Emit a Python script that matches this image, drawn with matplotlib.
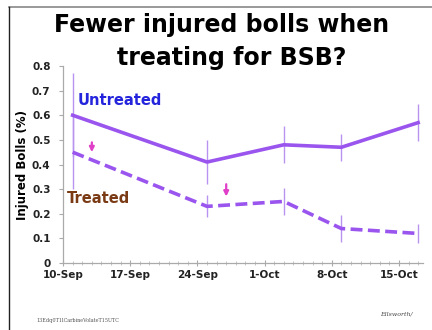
import numpy as np
import pandas as pd
import matplotlib
matplotlib.use('Agg')
import matplotlib.pyplot as plt
import matplotlib.dates as mdates
from matplotlib.lines import Line2D

# Sample dates and injured boll fractions
dates = pd.to_datetime(['2012-09-11', '2012-09-25', '2012-10-03', '2012-10-09', '2012-10-17'])
untreated = [0.60, 0.41, 0.48, 0.47, 0.57]
untreated_err = [0.17, 0.09, 0.075, 0.055, 0.075]
treated = [0.45, 0.23, 0.25, 0.14, 0.12]
treated_err = [0.15, 0.045, 0.055, 0.055, 0.04]

# Spray timings (arrows)
spray_dates = pd.to_datetime(['2012-09-13', '2012-09-27'])
spray_tops = [0.49, 0.32]
spray_bottoms = [0.45, 0.27]

tick_dates = pd.date_range('2012-09-10', '2012-10-15', freq='7D')

line_col = '#9a55ee'
err_col = '#b894f0'

fig = plt.figure(figsize=(4.32, 3.30), dpi=100)
ax = fig.add_axes([0.146, 0.203, 0.833, 0.597])

ax.errorbar(dates, untreated, yerr=untreated_err, color=line_col, ecolor=err_col,
            elinewidth=1.0, capsize=0, lw=2.6, zorder=3)
ax.errorbar(dates, treated, yerr=treated_err, color=line_col, ecolor=err_col,
            elinewidth=1.0, capsize=0, lw=2.6, ls=(0, (3.3, 1.5)), zorder=3)

for d, y0, y1 in zip(spray_dates, spray_tops, spray_bottoms):
    ax.annotate('', xy=(d, y1), xytext=(d, y0),
                arrowprops=dict(arrowstyle='-|>', color='#e040c8', lw=1.6,
                                mutation_scale=7, shrinkA=0, shrinkB=0))

ax.text(pd.Timestamp('2012-09-11 12:00'), 0.66, 'Untreated', color='#2424dd',
        fontsize=10.5, fontweight='bold', va='center', ha='left')
ax.text(pd.Timestamp('2012-09-10 10:00'), 0.26, 'Treated', color='#7a3a14',
        fontsize=10.5, fontweight='bold', va='center', ha='left')

ax.set_xlim(pd.Timestamp('2012-09-10'), pd.Timestamp('2012-10-17 12:00'))
ax.set_ylim(0, 0.8)
ax.set_xticks(tick_dates)
ax.xaxis.set_major_formatter(mdates.DateFormatter('%-d-%b'))
ax.xaxis.set_minor_locator(mdates.DayLocator())
ax.set_yticks(np.arange(0, 0.81, 0.1))
ax.set_yticklabels(['0'] + ['%.1f' % v for v in np.arange(0.1, 0.81, 0.1)])

for lab in ax.get_xticklabels() + ax.get_yticklabels():
    lab.set_fontweight('bold')
    lab.set_fontsize(7.5)
    lab.set_color('#222222')

ax.tick_params(axis='x', which='major', length=4, direction='inout', color='#aaaaaa', pad=3)
ax.tick_params(axis='x', which='minor', length=2.5, direction='inout', color='#bbbbbb')
ax.tick_params(axis='y', length=3, direction='out', color='#aaaaaa', pad=6)

for s in ['top', 'right']:
    ax.spines[s].set_visible(False)
for s in ['left', 'bottom']:
    ax.spines[s].set_color('#aaaaaa')
    ax.spines[s].set_linewidth(0.9)

ax.set_ylabel('Injured Bolls (%)', fontsize=8.5, fontweight='bold', labelpad=2)

fig.text(0.514, 0.925, 'Fewer injured bolls when', ha='center', va='center',
         fontsize=17, fontweight='bold')
fig.text(0.537, 0.824, 'treating for BSB?', ha='center', va='center',
         fontsize=17, fontweight='bold')

# slide frame
fig.add_artist(Line2D([0.02, 1.0], [0.978, 0.978], color='#888888', lw=1.2))
fig.add_artist(Line2D([0.021, 0.021], [0.0, 0.978], color='#222222', lw=1.0))

fig.text(0.085, 0.025, '13Edq0T1lCarbineVolateT15UTC', fontsize=3.5,
         family='DejaVu Serif', color='#555555')
fig.text(0.88, 0.045, 'Ellsworth/', fontsize=4.5, family='DejaVu Serif',
         style='italic', color='#444444')

fig.savefig('out.png', dpi=100)
